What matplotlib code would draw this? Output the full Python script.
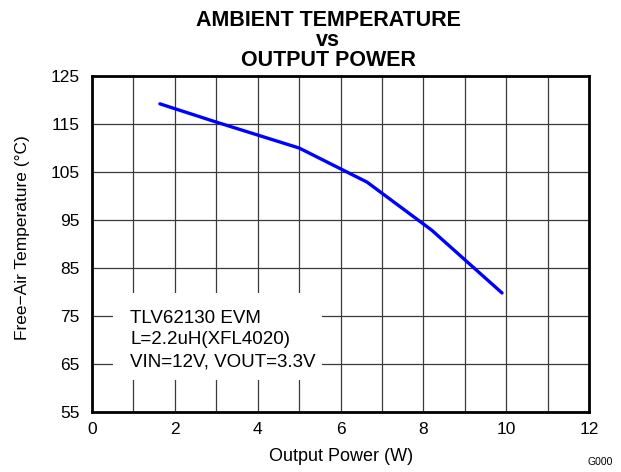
import matplotlib
matplotlib.use("Agg")
import matplotlib.pyplot as plt
from matplotlib.ticker import MultipleLocator
from matplotlib.patches import Rectangle

plt.rcParams['font.family'] = ['Liberation Sans', 'DejaVu Sans']

# ambient temperature vs output power, TLV62130 EVM
power_w = [1.64, 3.0, 5.0, 6.64, 8.2, 9.9]
temp_c = [119.2, 115.4, 110.0, 102.9, 92.9, 79.8]

x_ticks = [0, 2, 4, 6, 8, 10, 12]
y_ticks = [55, 65, 75, 85, 95, 105, 115, 125]

W, H = 621, 472
fig = plt.figure(figsize=(W / 100, H / 100), dpi=100)
ax = fig.add_axes([92 / W, 1 - 412 / H, 497 / W, 336 / H])

ax.set_xlim(0, 12)
ax.set_ylim(55, 125)
ax.set_xticks(x_ticks)
ax.set_yticks(y_ticks)
ax.xaxis.set_minor_locator(MultipleLocator(1))
ax.grid(True, which='both', axis='x', color='#3a3a3a', lw=0.9, zorder=1)
ax.grid(True, which='major', axis='y', color='#3a3a3a', lw=0.9, zorder=1)
ax.set_axisbelow(True)
ax.tick_params(which='both', length=0, labelsize=12.5)
ax.tick_params(axis='x', pad=7)
ax.tick_params(axis='y', pad=9)
for s in ax.spines.values():
    s.set_linewidth(2.0)
    s.set_zorder(5)

ax.plot(power_w, temp_c, color='#0000ff', lw=2.4, solid_capstyle='round', zorder=4)

ax.set_xlabel('Output Power (W)', fontsize=13)
ax.set_ylabel('Free\u2212Air Temperature (\u00b0C)', fontsize=12.5)
ax.xaxis.set_label_coords(0.501, -0.107)
ax.yaxis.set_label_coords(-0.125, 0.518)

# three-line bold title
fig.text(328 / W, 1 - 10 / H, 'AMBIENT TEMPERATURE\nvs\nOUTPUT POWER',
         ha='center', va='top', multialignment='center', linespacing=0.94,
         fontsize=15.5, fontweight='bold')

# white box behind the test conditions
ax.add_patch(Rectangle((0.5, 61.7), 5.05, 18.1, fc='white', ec='none', zorder=2))
ax.text(0.92, 70.0, 'TLV62130 EVM\nL=2.2uH(XFL4020)\nVIN=12V, VOUT=3.3V',
        fontsize=13.5, ha='left', va='center', linespacing=1.38, zorder=3)

fig.text(600 / W, 1 - 462 / H, 'G000', fontsize=7.5, ha='center', va='center')

fig.savefig('out.png', dpi=100)
